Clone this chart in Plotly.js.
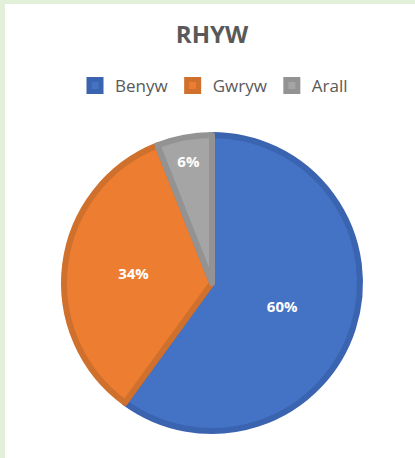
<!DOCTYPE html>
<html><head><meta charset="utf-8">
<script src="https://cdn.plot.ly/plotly-3.0.1.min.js"></script>
<style>html,body{margin:0;padding:0;background:#fff}#chart{width:415px;height:458px}</style>
</head><body><div id="chart"></div>
<script>
const categories = ["Benyw", "Gwryw", "Arall"];
const values = [60, 34, 6];
const fillColors = ["#4472C4", "#ED7D31", "#A5A5A5"];
const edgeColors = ["#3A63B0", "#D0702D", "#939393"];

const W = 415, H = 458;
const cx = 212, cy = 283, r = 148;

const trace = {
  type: "pie",
  labels: categories,
  values: values,
  sort: false,
  direction: "clockwise",
  rotation: 0,
  marker: {colors: fillColors, line: {color: edgeColors, width: 6}},
  texttemplate: "%{percent:.0%}",
  textinfo: "percent",
  textposition: "inside",
  insidetextorientation: "horizontal",
  textfont: {family: "Open Sans, Liberation Sans, sans-serif", size: 15, color: "#ffffff", weight: "bold"},
  hoverinfo: "label+percent",
  domain: {x: [(cx - r) / W, (cx + r) / W], y: [1 - (cy + r) / H, 1 - (cy - r) / H]}
};

const layout = {
  width: W, height: H,
  margin: {l: 0, r: 0, t: 0, b: 0},
  paper_bgcolor: "#E2EFD9",
  shapes: [{type: "rect", xref: "paper", yref: "paper", x0: 5 / W, x1: 1, y0: 0, y1: 1 - 4 / H,
            fillcolor: "#ffffff", line: {width: 0}, layer: "below"}],
  title: {text: "<b>RHYW</b>", x: 212 / W, xanchor: "center", y: 1 - 35 / H, yanchor: "middle",
          font: {family: "Open Sans, Liberation Sans, sans-serif", size: 24, color: "#595959"}},
  showlegend: true,
  legend: {orientation: "h", x: 214 / W, xanchor: "center", y: 1 - 86 / H, yanchor: "middle",
           font: {family: "Open Sans, Liberation Sans, sans-serif", size: 17, color: "#595959"},
           itemwidth: 30, traceorder: "normal", bgcolor: "rgba(0,0,0,0)"}
};

Plotly.newPlot("chart", [trace], layout, {displayModeBar: false, staticPlot: true});
</script></body></html>
